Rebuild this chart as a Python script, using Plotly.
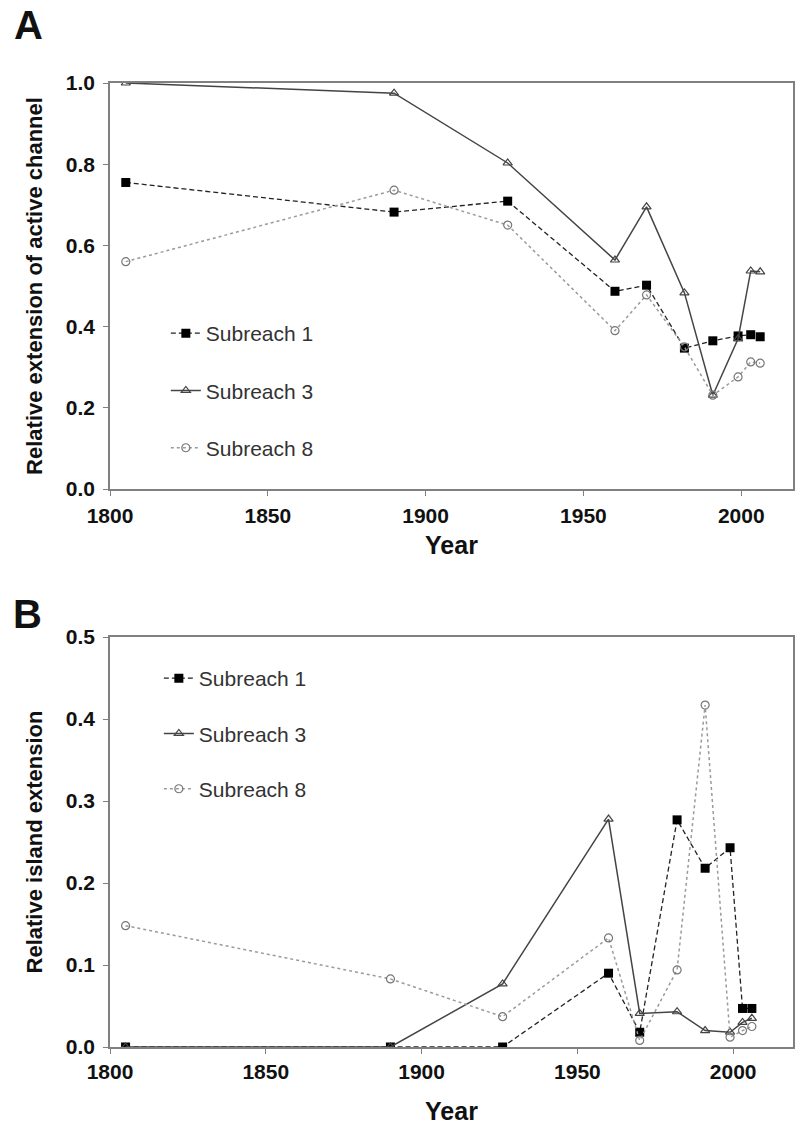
import plotly.graph_objects as go

# Survey years
years = [1805, 1890, 1926, 1960, 1970, 1982, 1991, 1999, 2003, 2006]

# A: relative extension of active channel
channel_s1 = [0.755, 0.682, 0.709, 0.487, 0.502, 0.347, 0.365, 0.377, 0.380, 0.375]
channel_s3 = [1.000, 0.975, 0.803, 0.564, 0.695, 0.483, 0.231, 0.370, 0.537, 0.535]
channel_s8 = [0.560, 0.736, 0.650, 0.390, 0.478, 0.350, 0.231, 0.276, 0.313, 0.310]

# B: relative island extension
island_s1 = [0.000, 0.000, 0.000, 0.090, 0.018, 0.277, 0.218, 0.243, 0.047, 0.047]
island_s3 = [0.000, 0.000, 0.077, 0.278, 0.041, 0.043, 0.020, 0.018, 0.030, 0.035]
island_s8 = [0.148, 0.083, 0.037, 0.133, 0.008, 0.094, 0.417, 0.012, 0.020, 0.025]

series_names = ["Subreach 1", "Subreach 3", "Subreach 8"]
x_ticks = [1800, 1850, 1900, 1950, 2000]
ticks_a = [0.0, 0.2, 0.4, 0.6, 0.8, 1.0]
ticks_b = [0.0, 0.1, 0.2, 0.3, 0.4, 0.5]

FONT = "Liberation Sans, Arial, sans-serif"

styles = [
    dict(line=dict(color="#222222", width=1.3, dash="5px,3px"),
         marker=dict(symbol="square", size=9, color="#000000",
                     line=dict(color="#000000", width=0))),
    dict(line=dict(color="#444444", width=1.5, dash="solid"),
         marker=dict(symbol="triangle-up-open", size=8, color="#444444",
                     line=dict(color="#444444", width=1.2))),
    dict(line=dict(color="#9a9a9a", width=1.5, dash="dot"),
         marker=dict(symbol="circle-open", size=8, color="#777777",
                     line=dict(color="#777777", width=1.2))),
]

fig = go.Figure()

for i, (name, vals) in enumerate(zip(series_names, [channel_s1, channel_s3, channel_s8])):
    fig.add_trace(go.Scatter(
        x=years, y=vals, name=name, mode="lines+markers",
        xaxis="x", yaxis="y", legend="legend", legendgroup=f"a{i}",
        **styles[i]))

for i, (name, vals) in enumerate(zip(series_names, [island_s1, island_s3, island_s8])):
    fig.add_trace(go.Scatter(
        x=years, y=vals, name=name, mode="lines+markers",
        xaxis="x2", yaxis="y2", legend="legend2", legendgroup=f"b{i}",
        **styles[i]))

H, W = 1131, 797
L, R, T, B = 110, 2, 83, 84
plot_w = W - L - R
plot_h = H - T - B
dom_a = [(1047 - 489) / plot_h, 1.0]
dom_b = [0.0, (1047 - 637) / plot_h]

axis_common = dict(
    showline=True, linecolor="#808080", linewidth=1.5, mirror=True,
    ticks="outside", ticklen=5, tickcolor="#808080", tickwidth=1,
    showgrid=False, zeroline=False,
    tickfont=dict(family=FONT, size=21, color="#111111", weight="bold"),
)
title_x_font = dict(family=FONT, size=25, color="#111111", weight="bold")
title_y_font = dict(family=FONT, size=22, color="#111111", weight="bold")
legend_font = dict(family=FONT, size=21, color="#333333")

fig.update_layout(
    width=W, height=H,
    margin=dict(l=L, r=R, t=T, b=B),
    paper_bgcolor="white", plot_bgcolor="white",
    font=dict(family=FONT),
    xaxis=dict(domain=[0, 1], anchor="y", range=[1800, 2016.4],
               tickvals=x_ticks, ticklabelstandoff=2,
               title=dict(text="Year", standoff=11, font=title_x_font),
               **axis_common),
    yaxis=dict(domain=dom_a, anchor="x", range=[0, 1.0],
               tickvals=ticks_a, tickformat=".1f", ticklabelstandoff=4,
               title=dict(text="Relative extension of active channel", standoff=17,
                          font=title_y_font),
               **axis_common),
    xaxis2=dict(domain=[0, 1], anchor="y2", range=[1800, 2019.2],
                tickvals=x_ticks, ticklabelstandoff=0,
                title=dict(text="Year", standoff=21, font=title_x_font),
                **axis_common),
    yaxis2=dict(domain=dom_b, anchor="x2", range=[0, 0.5],
                tickvals=ticks_b, tickformat=".1f", ticklabelstandoff=4,
                title=dict(text="Relative island extension", standoff=17,
                           font=title_y_font),
                **axis_common),
    legend=dict(x=(166 - L) / plot_w, y=(1047 - 313) / plot_h,
                xanchor="left", yanchor="top",
                bgcolor="rgba(0,0,0,0)", tracegroupgap=27, font=legend_font),
    legend2=dict(x=(159 - L) / plot_w, y=(1047 - 658) / plot_h,
                 xanchor="left", yanchor="top",
                 bgcolor="rgba(0,0,0,0)", tracegroupgap=25, font=legend_font),
)

# Panel letters placed by pixel position within the figure
panel_letters = [("A", 28, 25), ("B", 27, 614)]
for letter, px, py in panel_letters:
    fig.add_annotation(
        text=f"<b>{letter}</b>", xref="paper", yref="paper",
        x=(px - L) / plot_w, y=(H - B - py) / plot_h,
        xanchor="center", yanchor="middle", showarrow=False,
        font=dict(family=FONT, size=40, color="#111111"))

fig.write_html("out.html")
